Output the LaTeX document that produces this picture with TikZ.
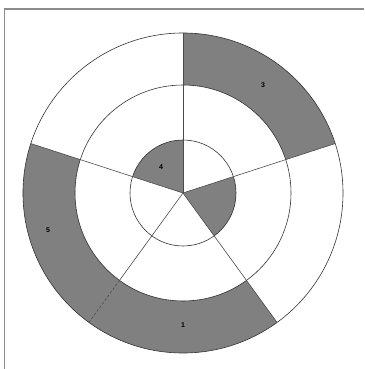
\documentclass[tikz,border=0pt]{standalone}
\usepackage{fontspec}
\setmainfont{Liberation Sans}
\begin{document}
\begin{tikzpicture}[x=1pt,y=1pt,
  shade/.style={fill=black!50},
  ring/.style={draw=black!80,line width=0.6pt},
  spoke/.style={draw=black!70,line width=0.6pt},
  lbl/.style={font=\bfseries\fontsize{7}{8}\selectfont,inner sep=0pt},
  frame/.style={draw=black!45,line width=1.2pt}]
\useasboundingbox (-183,-176) rectangle (181,193);
\draw[frame] (-178.5,-176) -- (-178.5,184) -- (181,184);
% outer ring shaded sectors
\fill[shade] (18:160) arc (18:90:160) -- (90:108) arc (90:18:108) -- cycle;
\fill[shade] (162:160) arc (162:306:160) -- (306:108) arc (306:162:108) -- cycle;
% inner disc shaded sectors
\fill[shade] (0,0) -- (90:53) arc (90:162:53) -- cycle;
\fill[shade] (0,0) -- (-54:53) arc (-54:18:53) -- cycle;
% circles
\coordinate (c) at (0,0);
\draw[ring] (c) circle (160);
\draw[ring] (c) circle (108);
\draw[ring] (c) circle (53);
% spokes
\coordinate (o90) at (90:160);
\coordinate (o18) at (18:160);
\coordinate (o306) at (306:160);
\coordinate (o162) at (162:160);
\coordinate (m234) at (234:108);
\coordinate (o234) at (234:160);
\draw[spoke] (c) -- (o90);
\draw[spoke] (c) -- (o18);
\draw[spoke] (c) -- (o306);
\draw[spoke] (c) -- (o162);
\draw[spoke] (c) -- (m234);
\draw[spoke,dashed,dash pattern=on 2.5pt off 2pt] (m234) -- (o234);
% labels
\node[lbl] (l3) at (80,108) {3};
\node[lbl] (l4) at (-22,26) {4};
\node[lbl] (l5) at (-135,-37) {5};
\node[lbl] (l1) at (0,-132) {1};
\end{tikzpicture}
\end{document}
